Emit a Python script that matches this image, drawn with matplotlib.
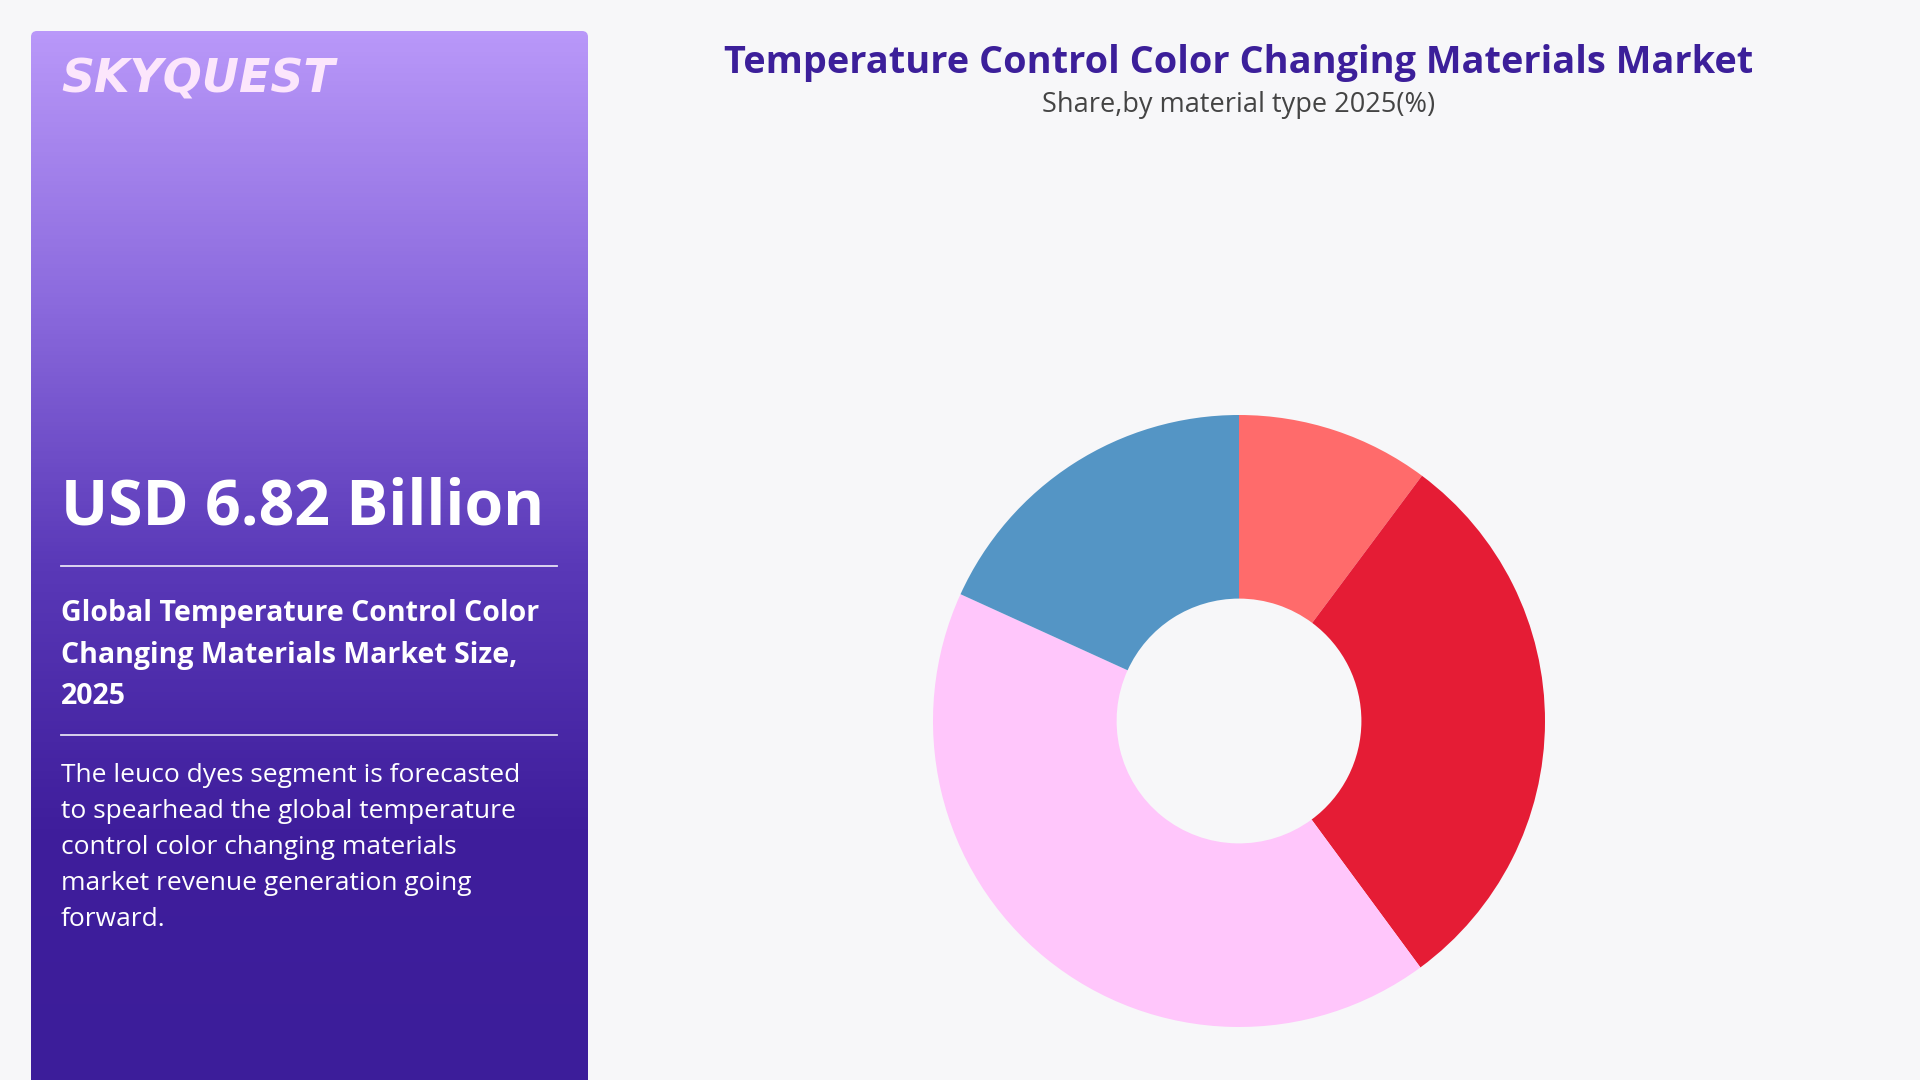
import numpy as np
import matplotlib
matplotlib.use('Agg')
import matplotlib.pyplot as plt
from matplotlib.patches import FancyBboxPatch
from matplotlib.colors import LinearSegmentedColormap

# data
segments = ['Segment A', 'Segment B', 'Segment C', 'Segment D']
shares = [10.2, 29.7, 41.9, 18.2]
seg_colors = ['#FF6B6B', '#E51C35', '#FFC6FB', '#5495C5']

title = 'Temperature Control Color Changing Materials Market'
subtitle = 'Share,by material type 2025(%)'
market_value = 'USD 6.82 Billion'
market_label = ['Global Temperature Control Color', 'Changing Materials Market Size,', '2025']
summary = ['The leuco dyes segment is forecasted', 'to spearhead the global temperature',
           'control color changing materials', 'market revenue generation going', 'forward.']

plt.rcParams['font.family'] = ['Open Sans', 'DejaVu Sans']
W, H = 1920, 1080
fig = plt.figure(figsize=(19.2, 10.8), dpi=100)
fig.patch.set_facecolor('#F7F7F9')

# full-figure axes in pixel coords (y down)
bg = fig.add_axes([0, 0, 1, 1])
bg.set_xlim(0, W)
bg.set_ylim(H, 0)
bg.axis('off')

# left panel with vertical gradient
px0, py0, px1, py1 = 31, 31, 588, 1095
cmap = LinearSegmentedColormap.from_list('panel', ['#B998F9', '#8C6BDE', '#5A39B8', '#3F1E9C', '#3C1D9A'])
grad = np.linspace(0, 1, 256).reshape(-1, 1)
im = bg.imshow(grad, cmap=cmap, extent=[px0, px1, py1, py0], aspect='auto', zorder=1)
clip = FancyBboxPatch((px0, py0), px1 - px0, py1 - py0, boxstyle='round,pad=0,rounding_size=6',
                      transform=bg.transData, facecolor='none', edgecolor='none')
bg.add_patch(clip)
im.set_clip_path(clip)
bg.set_xlim(0, W)
bg.set_ylim(H, 0)

# logo
bg.text(61, 80, 'SKYQUEST', color='#FCE6FC', fontsize=33, fontweight='heavy', style='italic',
        family=['DejaVu Sans'], va='center', ha='left', zorder=3)

# market value
bg.text(61, 508, market_value, color='white', fontsize=45, fontweight='bold', va='center', ha='left', zorder=3)
bg.plot([61, 557], [566, 566], color='white', lw=1.3, alpha=0.85, zorder=3)
for i, line in enumerate(market_label):
    bg.text(61, 614 + i * 41.5, line, color='white', fontsize=20.5, fontweight='bold', va='center', ha='left', zorder=3)
bg.plot([61, 557], [735, 735], color='white', lw=1.3, alpha=0.85, zorder=3)
for i, line in enumerate(summary):
    bg.text(61, 776 + i * 36, line, color='white', fontsize=19, va='center', ha='left', zorder=3)

# titles
bg.text(1239, 63, title, color='#3C1F9A', fontsize=27.3, fontweight='bold', ha='center', va='center', zorder=3)
bg.text(1239, 105, subtitle, color='#444444', fontsize=19.5, ha='center', va='center', zorder=3)

# donut
cx, cy, r = 1239, 721, 306
ax = fig.add_axes([(cx - r) / W, (H - cy - r) / H, 2 * r / W, 2 * r / H])
ax.pie(shares, colors=seg_colors, startangle=90, counterclock=False,
       wedgeprops=dict(width=0.6, edgecolor='none'))
ax.set_xlim(-1, 1)
ax.set_ylim(-1, 1)
ax.set_aspect('equal')
ax.axis('off')

fig.savefig('out.png', dpi=100, facecolor=fig.get_facecolor())
